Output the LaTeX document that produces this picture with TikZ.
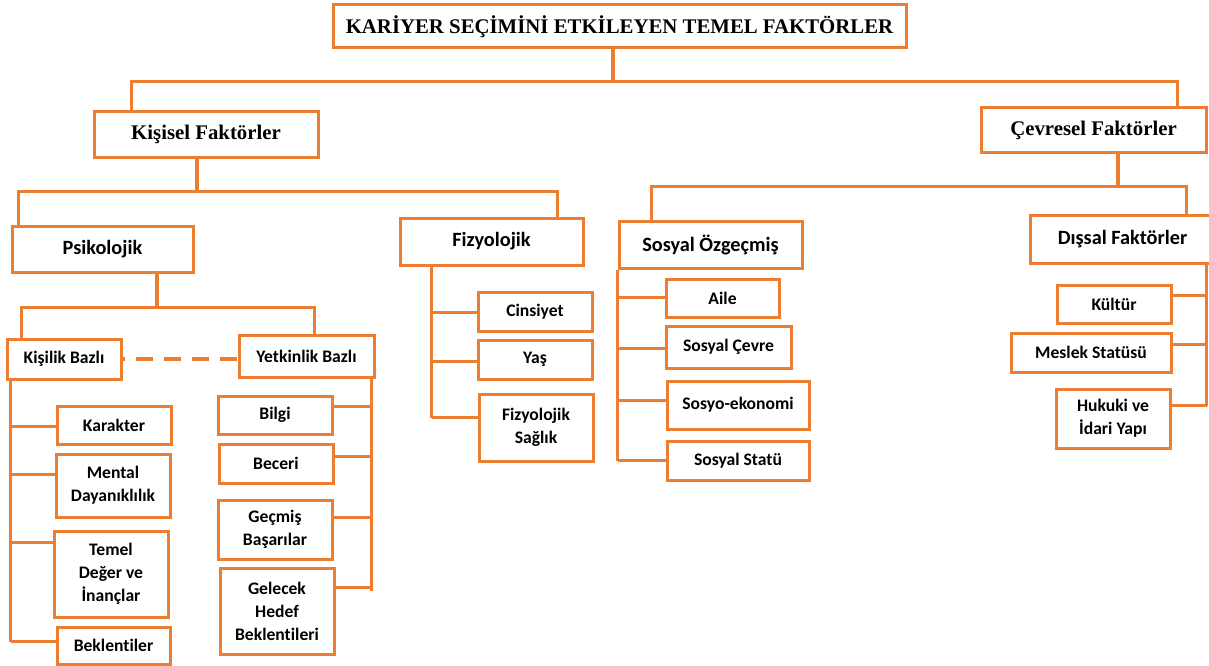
\documentclass[tikz,border=0pt]{standalone}
\usepackage{fontspec}
\setmainfont{Liberation Serif}
\newfontfamily\calibri[Ligatures=NoCommon]{Carlito}
\usetikzlibrary{positioning}
\definecolor{chartorange}{HTML}{ED7D31}

\begin{document}
\begin{tikzpicture}[x=1pt, y=-1pt,
    every box/.style={draw=chartorange, line width=3pt, fill=white, inner sep=0pt, align=center},
    main box/.style={every box, font=\bfseries\fontsize{20.8}{24}\selectfont},
    group box/.style={every box, font=\calibri\bfseries\fontsize{20.3}{24}\selectfont},
    item box/.style={every box, font=\calibri\bfseries\fontsize{17.6}{23}\selectfont},
    link/.style={draw=chartorange, line width=3.4pt}]

    \useasboundingbox (0,0) rectangle (1209,666);
    \clip (0,0) rectangle (1209,666);

    % Title and the two main factor groups
    \node[main box, minimum width=573, minimum height=43] (title) at (619.5,26.5) {KARİYER SEÇİMİNİ ETKİLEYEN TEMEL FAKTÖRLER};
    \node[main box, minimum width=224, minimum height=45] (kisisel) at (206,134.5) {Kişisel Faktörler};
    \node[main box, minimum width=225, minimum height=44] (cevresel) at (1093.5,130) {Çevresel Faktörler};

    % Second level groups
    \node[group box, minimum width=181, minimum height=46] (psikolojik) at (102.5,249) {Psikolojik};
    \node[group box, minimum width=183, minimum height=47] (fizyolojik) at (491.5,241.5) {Fizyolojik};
    \node[group box, minimum width=183, minimum height=47] (sosyal) at (710.5,244.5) {Sosyal Özgeçmiş};
    \node[group box, minimum width=185, minimum height=48] (dissal) at (1122.5,239) {Dışsal Faktörler};

    % Psikolojik sub groups
    \node[item box, minimum width=114, minimum height=40] (kisilik) at (64,359) {Kişilik Bazlı};
    \node[item box, minimum width=135, minimum height=42] (yetkinlik) at (306.5,356) {Yetkinlik Bazlı};

    % Kisilik items
    \node[item box, minimum width=114, minimum height=38] (karakter) at (114,425) {Karakter};
    \node[item box, minimum width=114, minimum height=63] (mental) at (113,485.5) {Mental\\Dayanıklılık};
    \node[item box, minimum width=114, minimum height=86] (temel) at (111,574) {Temel\\Değer ve\\İnançlar};
    \node[item box, minimum width=113, minimum height=37] (beklenti) at (113.5,645.5) {Beklentiler};

    % Yetkinlik items
    \node[item box, minimum width=114, minimum height=38] (bilgi) at (275,415) {Bilgi};
    \node[item box, minimum width=114, minimum height=39] (beceri) at (276,463.5) {Beceri};
    \node[item box, minimum width=114, minimum height=59] (gecmis) at (275,529.5) {Geçmiş\\Başarılar};
    \node[item box, minimum width=114, minimum height=86] (gelecek) at (277,611) {Gelecek\\Hedef\\Beklentileri};

    % Fizyolojik items
    \node[item box, minimum width=114, minimum height=39] (cinsiyet) at (535,311.5) {Cinsiyet};
    \node[item box, minimum width=114, minimum height=39] (yas) at (535,359.5) {Yaş};
    \node[item box, minimum width=114, minimum height=67] (saglik) at (536,427.5) {Fizyolojik\\Sağlık};

    % Sosyal Ozgecmis items
    \node[item box, minimum width=113, minimum height=38] (aile) at (722.5,298) {Aile};
    \node[item box, minimum width=125, minimum height=42] (cevre) at (728.5,347) {Sosyal Çevre};
    \node[item box, minimum width=142, minimum height=48] (ekonomi) at (738,405) {Sosyo-ekonomi};
    \node[item box, minimum width=142, minimum height=39] (statu) at (738,460.5) {Sosyal Statü};

    % Dissal items
    \node[item box, minimum width=114, minimum height=38] (kultur) at (1114,304) {Kültür};
    \node[item box, minimum width=160, minimum height=39] (meslek) at (1091,352.5) {Meslek Statüsü};
    \node[item box, minimum width=114, minimum height=59] (hukuki) at (1113,418.5) {Hukuki ve\\İdari Yapı};

    % Tree branches
    \draw[link] ([xshift=-6.5pt]title.south) -- ++(0,32) coordinate (t-j);
    \draw[link] ([xshift=39pt]kisisel.north west) |- (t-j) -| ([xshift=-30pt]cevresel.north east);

    \draw[link] ([xshift=-9pt]kisisel.south) -- ++(0,33) coordinate (k-j);
    \draw[link] ([xshift=8pt]psikolojik.north west) |- (k-j) -| ([xshift=-27pt]fizyolojik.north east);

    \draw[link] ([xshift=24.5pt]cevresel.south) -- ++(0,33) coordinate (c-j);
    \draw[link] ([xshift=34pt]sosyal.north west) |- (c-j) -| ([xshift=158pt]dissal.north west);

    \draw[link] ([xshift=54.5pt]psikolojik.south) -- ++(0,34) coordinate (p-j);
    \draw[link] ([xshift=16pt]kisilik.north west) |- (p-j) -| ([xshift=77pt]yetkinlik.north west);

    % Dashed link between the two sub groups
    \draw[link, dash pattern=on 17pt off 11pt, dash phase=15pt] (kisilik.east) -- (yetkinlik.west |- kisilik.east);

    % Spines with their items
    \coordinate (k-sp) at ([xshift=5pt]kisilik.south west);
    \foreach \n/\d in {karakter/22, mental/22, temel/13, beklenti/16} {
        \coordinate (\n-in) at ([yshift=-\d pt]\n.north west);
        \draw[link] (\n-in) -- (\n-in -| k-sp);
    }
    \draw[link] (k-sp) -- (k-sp |- beklenti-in);

    \coordinate (y-sp) at ([xshift=-4pt]yetkinlik.south east);
    \foreach \n/\d in {bilgi/12, beceri/14, gecmis/19, gelecek/21} {
        \coordinate (\n-in) at ([yshift=-\d pt]\n.north east);
        \draw[link] (\n-in) -- (\n-in -| y-sp);
    }
    \draw[link] (y-sp) -- ([yshift=-3pt]y-sp |- gelecek-in);

    \coordinate (f-sp) at ([xshift=33pt]fizyolojik.south west);
    \foreach \n/\d in {cinsiyet/22, yas/23, saglik/25} {
        \coordinate (\n-in) at ([yshift=-\d pt]\n.north west);
        \draw[link] (\n-in) -- (\n-in -| f-sp);
    }
    \draw[link] (f-sp) -- (f-sp |- saglik-in);

    \coordinate (s-sp) at (sosyal.south west);
    \foreach \n/\d in {aile/20, cevre/24, ekonomi/21, statu/21} {
        \coordinate (\n-in) at ([yshift=-\d pt]\n.north west);
        \draw[link] (\n-in) -- (\n-in -| s-sp);
    }
    \draw[link] (s-sp) -- (s-sp |- statu-in);

    \coordinate (d-sp) at ([xshift=178pt]dissal.south west);
    \foreach \n/\d in {kultur/12, meslek/13, hukuki/18} {
        \coordinate (\n-in) at ([yshift=-\d pt]\n.north east);
        \draw[link] (\n-in) -- (\n-in -| d-sp);
    }
    \draw[link] (d-sp) -- (d-sp |- hukuki-in);

\end{tikzpicture}
\end{document}
